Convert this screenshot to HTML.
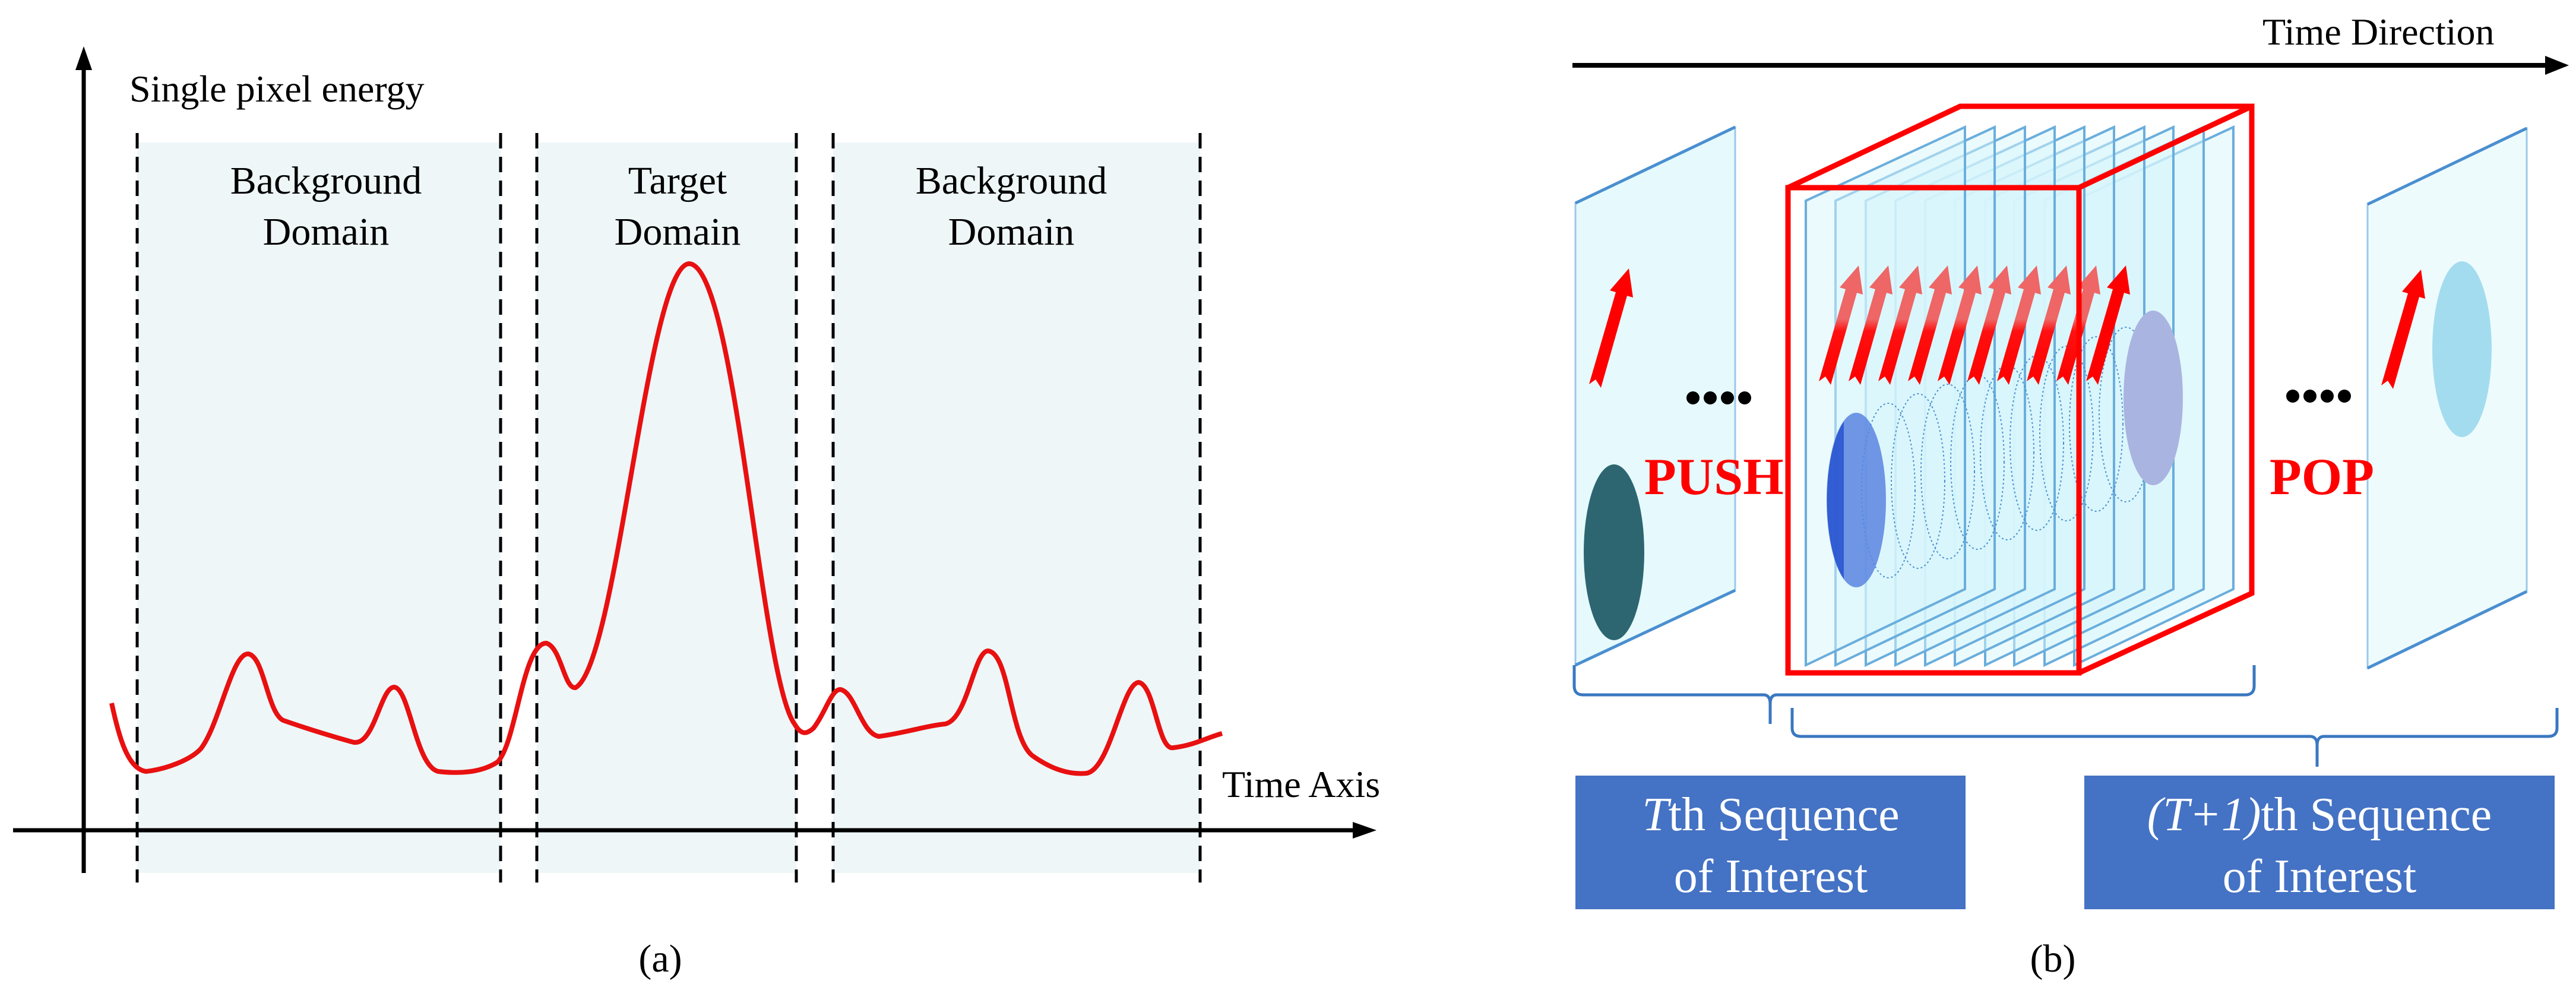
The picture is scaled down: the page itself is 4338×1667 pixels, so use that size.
<!DOCTYPE html>
<html><head><meta charset="utf-8"><style>html,body{margin:0;padding:0;background:#fff}svg{display:block}text{font-family:"Liberation Serif",serif}</style></head>
<body>
<svg width="4338" height="1667" viewBox="0 0 4338 1667" xmlns="http://www.w3.org/2000/svg" style="font-family:'Liberation Serif',serif">
<defs>
<linearGradient id="ag" x1="0" y1="1" x2="0" y2="0"><stop offset="0" stop-color="#ff0000"/><stop offset="0.45" stop-color="#ff1010"/><stop offset="0.55" stop-color="#ee6666"/><stop offset="1" stop-color="#ee6666"/></linearGradient>
</defs>
<!-- (a) -->
<rect x="231" y="240" width="612" height="1230" fill="#eef6f8"/>
<rect x="904" y="240" width="437" height="1230" fill="#eef6f8"/>
<rect x="1403" y="240" width="618" height="1230" fill="#eef6f8"/>
<g stroke="#000" stroke-width="5" stroke-dasharray="26,14">
<line x1="231" y1="224" x2="231" y2="1486"/><line x1="843" y1="224" x2="843" y2="1486"/>
<line x1="904" y1="224" x2="904" y2="1486"/><line x1="1341" y1="224" x2="1341" y2="1486"/>
<line x1="1403" y1="224" x2="1403" y2="1486"/><line x1="2021" y1="224" x2="2021" y2="1486"/>
</g>
<line x1="141" y1="1470" x2="141" y2="110" stroke="#000" stroke-width="7"/>
<polygon points="141,78 127,118 155,118" fill="#000"/>
<line x1="22" y1="1398" x2="2280" y2="1398" stroke="#000" stroke-width="7"/>
<polygon points="2318,1398 2278,1384 2278,1412" fill="#000"/>
<text x="218" y="171" font-size="64">Single pixel energy</text>
<g font-size="66" text-anchor="middle">
<text x="549" y="326">Background</text><text x="549" y="412">Domain</text>
<text x="1141" y="326">Target</text><text x="1141" y="412">Domain</text>
<text x="1703" y="326">Background</text><text x="1703" y="412">Domain</text>
</g>
<text x="2058" y="1342" font-size="64">Time Axis</text>
<text x="1112" y="1636" font-size="66" text-anchor="middle">(a)</text>
<path d="M188,1184 C200,1240 215,1295 246,1299 C280,1295 320,1280 338,1261 C370,1220 390,1100 418,1101 C445,1105 450,1200 477,1213 C520,1228 560,1240 592,1249 C630,1262 640,1157 664,1157 C690,1160 700,1290 738,1299 C790,1305 820,1295 838,1283 C870,1250 880,1083 920,1083 C945,1090 950,1160 969,1158 C1040,1120 1090,444 1161,444 C1240,450 1280,1140 1338,1219 C1350,1240 1360,1235 1370,1226 C1390,1200 1400,1161 1415,1161 C1440,1165 1450,1235 1480,1240 C1520,1235 1560,1222 1592,1219 C1630,1210 1640,1096 1664,1096 C1700,1100 1700,1240 1738,1272 C1770,1295 1800,1305 1830,1302 C1870,1295 1890,1149 1918,1149 C1945,1155 1950,1265 1976,1259 C2010,1255 2030,1243 2058,1235" fill="none" stroke="#e81010" stroke-width="8"/>
<!-- (b) -->
<line x1="2648" y1="110" x2="4290" y2="110" stroke="#000" stroke-width="8"/>
<polygon points="4326,110 4286,94 4286,126" fill="#000"/>
<text x="3810" y="75" font-size="64">Time Direction</text>
<polygon points="2653,342 2922,214 2922,994 2653,1120" fill="#e6fafd" stroke="#9cc8e8" stroke-width="3"/>
<line x1="2653" y1="342" x2="2922" y2="214" stroke="#4a8fd0" stroke-width="5"/>
<line x1="2653" y1="1120" x2="2922" y2="994" stroke="#4a8fd0" stroke-width="5"/>
<polygon points="3987,344 4255,216 4255,996 3987,1125" fill="#eefbfd" stroke="#9cc8e8" stroke-width="3"/>
<line x1="3987" y1="344" x2="4255" y2="216" stroke="#4a8fd0" stroke-width="5"/>
<line x1="3987" y1="1125" x2="4255" y2="996" stroke="#4a8fd0" stroke-width="5"/>
<g fill="#d8f6fc" fill-opacity="0.5" stroke="#6aaedc" stroke-width="4">
<polygon points="3493,338 3761,214 3761,992 3493,1120"/>
<polygon points="3443,338 3711,214 3711,992 3443,1120"/>
<polygon points="3392,338 3660,214 3660,992 3392,1120"/>
<polygon points="3343,338 3611,214 3611,992 3343,1120"/>
<polygon points="3292,338 3560,214 3560,992 3292,1120"/>
<polygon points="3242,338 3510,214 3510,992 3242,1120"/>
<polygon points="3192,338 3460,214 3460,992 3192,1120"/>
<polygon points="3142,338 3410,214 3410,992 3142,1120"/>
<polygon points="3091,338 3359,214 3359,992 3091,1120"/>
<polygon points="3041,338 3309,214 3309,992 3041,1120"/>
</g>
<g fill="none" stroke="#4a8fd0" stroke-width="2" stroke-dasharray="3,4">
<ellipse cx="3180" cy="826" rx="45" ry="147"/><ellipse cx="3230" cy="810" rx="45" ry="147"/>
<ellipse cx="3280" cy="794" rx="45" ry="147"/><ellipse cx="3330" cy="778" rx="45" ry="147"/>
<ellipse cx="3380" cy="762" rx="45" ry="147"/><ellipse cx="3430" cy="746" rx="45" ry="147"/>
<ellipse cx="3480" cy="730" rx="45" ry="147"/><ellipse cx="3530" cy="714" rx="45" ry="147"/>
<ellipse cx="3580" cy="698" rx="45" ry="147"/>
</g>
<ellipse cx="3126" cy="842" rx="50" ry="147" fill="#5b85e0" fill-opacity="0.85"/>
<path d="M3105,710 A50,147 0 0 0 3105,975 Z" fill="#1a44cc" opacity="0.7"/>
<ellipse cx="3626" cy="670" rx="50" ry="147" fill="#aab4e0"/>
<ellipse cx="2718" cy="930" rx="51" ry="148" fill="#2d6670"/>
<ellipse cx="4146" cy="588" rx="50" ry="148" fill="#a4dcef"/>
<g id="arr">
<path d="M3063,642 L3108,487 L3098,484 L3130,447 L3137,496 L3127,493 L3083,648 L3074,634 Z" fill="url(#ag)"/>
</g>
<use href="#arr" x="50"/><use href="#arr" x="100"/><use href="#arr" x="150"/><use href="#arr" x="200"/>
<use href="#arr" x="250"/><use href="#arr" x="300"/><use href="#arr" x="350"/><use href="#arr" x="400"/>
<path d="M3513,642 L3558,487 L3548,484 L3580,447 L3587,496 L3577,493 L3533,648 L3524,634 Z" fill="#ff0000"/>
<path d="M2676,647 L2721,492 L2711,489 L2743,452 L2750,501 L2740,498 L2696,653 L2687,639 Z" fill="#ff0000"/>
<path d="M4010,649 L4055,494 L4045,491 L4077,454 L4084,503 L4074,500 L4030,655 L4021,641 Z" fill="#ff0000"/>
<g fill="none" stroke="#ff0000" stroke-width="9" stroke-linejoin="miter">
<polyline points="3011,316 3301,179 3792,179 3792,999 3501,1133"/>
<line x1="3501" y1="316" x2="3792" y2="179"/>
<rect x="3011" y="316" width="490" height="817"/>
</g>
<g fill="#000"><circle cx="2851" cy="670" r="11"/><circle cx="2880" cy="670" r="11"/><circle cx="2909" cy="670" r="11"/><circle cx="2938" cy="670" r="11"/>
<circle cx="3861" cy="667" r="11"/><circle cx="3890" cy="667" r="11"/><circle cx="3919" cy="667" r="11"/><circle cx="3948" cy="667" r="11"/></g>
<text x="2769" y="832" font-size="88" font-weight="bold" fill="#ff0000">PUSH</text>
<text x="3822" y="832" font-size="88" font-weight="bold" fill="#ff0000">POP</text>
<g fill="none" stroke="#3a78c0" stroke-width="5">
<path d="M2651,1120 L2651,1155 Q2651,1170 2666,1170 L2970,1170 Q2981,1170 2981,1185 L2981,1219 M2981,1185 Q2981,1170 2992,1170 L3781,1170 Q3796,1170 3796,1155 L3796,1120"/>
<path d="M3018,1192 L3018,1226 Q3018,1240 3033,1240 L3890,1240 Q3902,1240 3902,1255 L3902,1291 M3902,1255 Q3902,1240 3914,1240 L4291,1240 Q4306,1240 4306,1226 L4306,1192"/>
</g>
<rect x="2653" y="1306" width="657" height="225" fill="#4472c4"/>
<rect x="3510" y="1306" width="792" height="225" fill="#4472c4"/>
<g fill="#fff" font-size="80" text-anchor="middle">
<text x="2982" y="1398"><tspan font-style="italic">T</tspan>th Sequence</text>
<text x="2982" y="1502">of Interest</text>
<text x="3906" y="1398"><tspan font-style="italic">(T+1)</tspan>th Sequence</text>
<text x="3906" y="1502">of Interest</text>
</g>
<text x="3457" y="1636" font-size="66" text-anchor="middle">(b)</text>
</svg>
</body></html>
